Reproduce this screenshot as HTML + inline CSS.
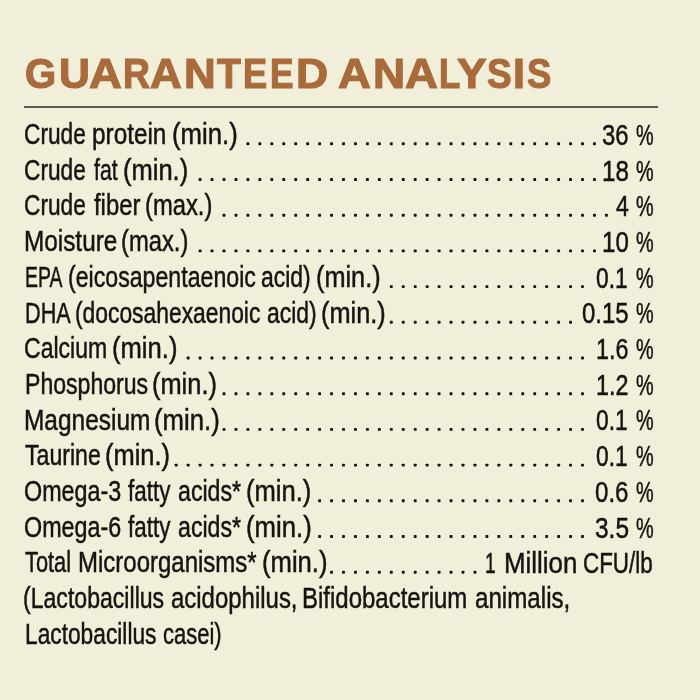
<!DOCTYPE html>
<html><head><meta charset="utf-8"><style>
html,body{margin:0;padding:0}
body{width:700px;height:700px;background:#f1eeda;position:relative;overflow:hidden;font-family:"Liberation Sans",sans-serif}
.t{position:absolute;left:0;top:0;width:700px;height:120px;will-change:transform;font-weight:bold;color:#a96b3b;font-size:42.4px;letter-spacing:2.0px;line-height:0;white-space:nowrap;transform-origin:0 0}
.t span{position:absolute;top:74.40px;transform-origin:0 0;-webkit-text-stroke:1.2px #a96b3b}
.rule{position:absolute;left:24.3px;top:105.9px;width:634.2px;height:2.6px;background:#5e5b55}
.r,.v{position:absolute;height:0;line-height:0;font-size:29.8px;-webkit-text-stroke:0.5px #151412;word-spacing:-3px;color:#151412;white-space:nowrap}
.r{transform-origin:0 0}
.v{word-spacing:0;right:47px;transform-origin:100% 0}
svg{position:absolute;left:0;top:0}
.rows{position:absolute;left:0;top:0;width:700px;height:700px;will-change:transform}
</style></head><body>
<div class="t"><span style="left:25.22px;transform:scaleX(0.9433)">G</span><span style="left:58.53px;transform:scaleX(1.0084)">U</span><span style="left:88.77px;transform:scaleX(1.0711)">A</span><span style="left:122.60px;transform:scaleX(0.8802)">R</span><span style="left:150.49px;transform:scaleX(1.0373)">A</span><span style="left:183.75px;transform:scaleX(1.0347)">N</span><span style="left:217.16px;transform:scaleX(0.9214)">T</span><span style="left:243.46px;transform:scaleX(0.8536)">E</span><span style="left:270.21px;transform:scaleX(0.8297)">E</span><span style="left:295.81px;transform:scaleX(1.0501)">D</span><span style="left:338.27px;transform:scaleX(1.0745)">A</span><span style="left:372.61px;transform:scaleX(1.0499)">N</span><span style="left:405.07px;transform:scaleX(1.0745)">A</span><span style="left:439.24px;transform:scaleX(0.8196)">L</span><span style="left:457.20px;transform:scaleX(1.0468)">Y</span><span style="left:486.88px;transform:scaleX(0.8715)">S</span><span style="left:513.09px;transform:scaleX(1.0167)">I</span><span style="left:526.89px;transform:scaleX(0.8565)">S</span></div>
<div class="rule"></div>
<div class="rows"><div class="r" style="top:134.07px;left:24.47px;transform:scaleX(0.7611)">Crude</div>
<div class="r" style="top:134.07px;left:92.40px;transform:scaleX(0.8165)">protein</div>
<div class="r" style="top:134.07px;left:171.61px;transform:scaleX(0.8628)">(min.)</div>
<div class="r" style="top:133.87px;left:602.02px;font-size:30.4px;transform:scaleX(0.7853)">36</div>
<div class="r" style="top:133.87px;left:635.78px;font-size:30.4px;transform:scaleX(0.6538)">%</div>
<div class="r" style="top:169.77px;left:24.47px;transform:scaleX(0.7611)">Crude</div>
<div class="r" style="top:169.77px;left:93.79px;transform:scaleX(0.7133)">fat</div>
<div class="r" style="top:169.77px;left:123.12px;transform:scaleX(0.8560)">(min.)</div>
<div class="r" style="top:169.57px;left:602.18px;font-size:30.4px;transform:scaleX(0.7955)">18</div>
<div class="r" style="top:169.57px;left:635.78px;font-size:30.4px;transform:scaleX(0.6538)">%</div>
<div class="r" style="top:205.47px;left:24.47px;transform:scaleX(0.7611)">Crude</div>
<div class="r" style="top:205.47px;left:93.80px;transform:scaleX(0.8001)">fiber</div>
<div class="r" style="top:205.47px;left:144.96px;transform:scaleX(0.7978)">(max.)</div>
<div class="r" style="top:205.27px;left:615.85px;font-size:30.4px;transform:scaleX(0.7587)">4</div>
<div class="r" style="top:205.27px;left:635.78px;font-size:30.4px;transform:scaleX(0.6538)">%</div>
<div class="r" style="top:241.17px;left:23.67px;transform:scaleX(0.8165)">Moisture</div>
<div class="r" style="top:241.17px;left:121.21px;transform:scaleX(0.7978)">(max.)</div>
<div class="r" style="top:240.97px;left:602.19px;font-size:30.4px;transform:scaleX(0.7931)">10</div>
<div class="r" style="top:240.97px;left:635.78px;font-size:30.4px;transform:scaleX(0.6538)">%</div>
<div class="r" style="top:276.87px;left:24.54px;transform:scaleX(0.6512)">EPA</div>
<div class="r" style="top:276.87px;left:67.50px;transform:scaleX(0.7767)">(eicosapentaenoic</div>
<div class="r" style="top:276.87px;left:261.32px;transform:scaleX(0.7700)">acid)</div>
<div class="r" style="top:276.87px;left:315.63px;transform:scaleX(0.8491)">(min.)</div>
<div class="r" style="top:276.67px;left:595.66px;font-size:30.4px;transform:scaleX(0.7493)">0.1</div>
<div class="r" style="top:276.67px;left:635.78px;font-size:30.4px;transform:scaleX(0.6538)">%</div>
<div class="r" style="top:312.57px;left:24.62px;transform:scaleX(0.7268)">DHA</div>
<div class="r" style="top:312.57px;left:75.01px;transform:scaleX(0.7663)">(docosahexaenoic</div>
<div class="r" style="top:312.57px;left:266.82px;transform:scaleX(0.7700)">acid)</div>
<div class="r" style="top:312.57px;left:321.13px;transform:scaleX(0.8505)">(min.)</div>
<div class="r" style="top:312.37px;left:581.83px;font-size:30.4px;transform:scaleX(0.7871)">0.15</div>
<div class="r" style="top:312.37px;left:635.78px;font-size:30.4px;transform:scaleX(0.6538)">%</div>
<div class="r" style="top:348.27px;left:24.25px;transform:scaleX(0.7726)">Calcium</div>
<div class="r" style="top:348.27px;left:112.36px;transform:scaleX(0.8594)">(min.)</div>
<div class="r" style="top:348.07px;left:596.24px;font-size:30.4px;transform:scaleX(0.7655)">1.6</div>
<div class="r" style="top:348.07px;left:635.78px;font-size:30.4px;transform:scaleX(0.6538)">%</div>
<div class="r" style="top:383.97px;left:24.51px;transform:scaleX(0.7741)">Phosphorus</div>
<div class="r" style="top:383.97px;left:152.38px;transform:scaleX(0.8526)">(min.)</div>
<div class="r" style="top:383.77px;left:596.24px;font-size:30.4px;transform:scaleX(0.7675)">1.2</div>
<div class="r" style="top:383.77px;left:635.78px;font-size:30.4px;transform:scaleX(0.6538)">%</div>
<div class="r" style="top:419.67px;left:23.66px;transform:scaleX(0.8203)">Magnesium</div>
<div class="r" style="top:419.67px;left:153.61px;transform:scaleX(0.8628)">(min.)</div>
<div class="r" style="top:419.47px;left:595.66px;font-size:30.4px;transform:scaleX(0.7493)">0.1</div>
<div class="r" style="top:419.47px;left:635.78px;font-size:30.4px;transform:scaleX(0.6538)">%</div>
<div class="r" style="top:455.37px;left:24.67px;transform:scaleX(0.7761)">Taurine</div>
<div class="r" style="top:455.37px;left:104.87px;transform:scaleX(0.8539)">(min.)</div>
<div class="r" style="top:455.17px;left:595.66px;font-size:30.4px;transform:scaleX(0.7493)">0.1</div>
<div class="r" style="top:455.17px;left:635.78px;font-size:30.4px;transform:scaleX(0.6538)">%</div>
<div class="r" style="top:491.07px;left:24.00px;transform:scaleX(0.7823)">Omega-3</div>
<div class="r" style="top:491.07px;left:128.05px;transform:scaleX(0.7524)">fatty</div>
<div class="r" style="top:491.07px;left:178.21px;transform:scaleX(0.7775)">acids*</div>
<div class="r" style="top:491.07px;left:246.12px;transform:scaleX(0.8587)">(min.)</div>
<div class="r" style="top:490.87px;left:595.33px;font-size:30.4px;transform:scaleX(0.7925)">0.6</div>
<div class="r" style="top:490.87px;left:635.78px;font-size:30.4px;transform:scaleX(0.6538)">%</div>
<div class="r" style="top:526.77px;left:24.00px;transform:scaleX(0.7822)">Omega-6</div>
<div class="r" style="top:526.77px;left:128.05px;transform:scaleX(0.7524)">fatty</div>
<div class="r" style="top:526.77px;left:178.21px;transform:scaleX(0.7775)">acids*</div>
<div class="r" style="top:526.77px;left:246.11px;transform:scaleX(0.8628)">(min.)</div>
<div class="r" style="top:526.57px;left:594.80px;font-size:30.4px;transform:scaleX(0.8043)">3.5</div>
<div class="r" style="top:526.57px;left:635.78px;font-size:30.4px;transform:scaleX(0.6538)">%</div>
<div class="r" style="top:562.47px;left:25.19px;transform:scaleX(0.7310)">Total</div>
<div class="r" style="top:562.47px;left:78.49px;transform:scaleX(0.8051)">Microorganisms*</div>
<div class="r" style="top:562.47px;left:262.31px;transform:scaleX(0.8601)">(min.)</div>
<div class="r" style="top:562.27px;left:485.04px;font-size:30.4px;transform:scaleX(0.6323)">1</div>
<div class="r" style="top:562.27px;left:504.32px;font-size:30.4px;transform:scaleX(0.8507)">Million</div>
<div class="r" style="top:562.27px;left:583.48px;font-size:30.4px;transform:scaleX(0.7369)">CFU/lb</div>
<div class="r" style="top:598.17px;left:23.05px;transform:scaleX(0.7747)">(Lactobacillus</div>
<div class="r" style="top:598.17px;left:170.59px;transform:scaleX(0.8040)">acidophilus,</div>
<div class="r" style="top:598.17px;left:302.09px;transform:scaleX(0.8051)">Bifidobacterium</div>
<div class="r" style="top:598.17px;left:474.88px;transform:scaleX(0.8104)">animalis,</div>
<div class="r" style="top:633.87px;left:24.79px;transform:scaleX(0.7631)">Lactobacillus</div>
<div class="r" style="top:633.87px;left:163.05px;transform:scaleX(0.7383)">casei)</div></div>
<svg width="700" height="700" fill="#151412"><rect x="246.45" y="142.35" width="2.9" height="2.9" rx="0.7"/><rect x="258.40" y="142.35" width="2.9" height="2.9" rx="0.7"/><rect x="270.35" y="142.35" width="2.9" height="2.9" rx="0.7"/><rect x="282.30" y="142.35" width="2.9" height="2.9" rx="0.7"/><rect x="294.25" y="142.35" width="2.9" height="2.9" rx="0.7"/><rect x="306.20" y="142.35" width="2.9" height="2.9" rx="0.7"/><rect x="318.15" y="142.35" width="2.9" height="2.9" rx="0.7"/><rect x="330.10" y="142.35" width="2.9" height="2.9" rx="0.7"/><rect x="342.05" y="142.35" width="2.9" height="2.9" rx="0.7"/><rect x="354.00" y="142.35" width="2.9" height="2.9" rx="0.7"/><rect x="365.95" y="142.35" width="2.9" height="2.9" rx="0.7"/><rect x="377.90" y="142.35" width="2.9" height="2.9" rx="0.7"/><rect x="389.85" y="142.35" width="2.9" height="2.9" rx="0.7"/><rect x="401.80" y="142.35" width="2.9" height="2.9" rx="0.7"/><rect x="413.75" y="142.35" width="2.9" height="2.9" rx="0.7"/><rect x="425.70" y="142.35" width="2.9" height="2.9" rx="0.7"/><rect x="437.65" y="142.35" width="2.9" height="2.9" rx="0.7"/><rect x="449.60" y="142.35" width="2.9" height="2.9" rx="0.7"/><rect x="461.55" y="142.35" width="2.9" height="2.9" rx="0.7"/><rect x="473.50" y="142.35" width="2.9" height="2.9" rx="0.7"/><rect x="485.45" y="142.35" width="2.9" height="2.9" rx="0.7"/><rect x="497.40" y="142.35" width="2.9" height="2.9" rx="0.7"/><rect x="509.35" y="142.35" width="2.9" height="2.9" rx="0.7"/><rect x="521.30" y="142.35" width="2.9" height="2.9" rx="0.7"/><rect x="533.25" y="142.35" width="2.9" height="2.9" rx="0.7"/><rect x="545.20" y="142.35" width="2.9" height="2.9" rx="0.7"/><rect x="557.15" y="142.35" width="2.9" height="2.9" rx="0.7"/><rect x="569.10" y="142.35" width="2.9" height="2.9" rx="0.7"/><rect x="581.05" y="142.35" width="2.9" height="2.9" rx="0.7"/><rect x="593.00" y="142.35" width="2.9" height="2.9" rx="0.7"/><rect x="198.65" y="178.05" width="2.9" height="2.9" rx="0.7"/><rect x="210.60" y="178.05" width="2.9" height="2.9" rx="0.7"/><rect x="222.55" y="178.05" width="2.9" height="2.9" rx="0.7"/><rect x="234.50" y="178.05" width="2.9" height="2.9" rx="0.7"/><rect x="246.45" y="178.05" width="2.9" height="2.9" rx="0.7"/><rect x="258.40" y="178.05" width="2.9" height="2.9" rx="0.7"/><rect x="270.35" y="178.05" width="2.9" height="2.9" rx="0.7"/><rect x="282.30" y="178.05" width="2.9" height="2.9" rx="0.7"/><rect x="294.25" y="178.05" width="2.9" height="2.9" rx="0.7"/><rect x="306.20" y="178.05" width="2.9" height="2.9" rx="0.7"/><rect x="318.15" y="178.05" width="2.9" height="2.9" rx="0.7"/><rect x="330.10" y="178.05" width="2.9" height="2.9" rx="0.7"/><rect x="342.05" y="178.05" width="2.9" height="2.9" rx="0.7"/><rect x="354.00" y="178.05" width="2.9" height="2.9" rx="0.7"/><rect x="365.95" y="178.05" width="2.9" height="2.9" rx="0.7"/><rect x="377.90" y="178.05" width="2.9" height="2.9" rx="0.7"/><rect x="389.85" y="178.05" width="2.9" height="2.9" rx="0.7"/><rect x="401.80" y="178.05" width="2.9" height="2.9" rx="0.7"/><rect x="413.75" y="178.05" width="2.9" height="2.9" rx="0.7"/><rect x="425.70" y="178.05" width="2.9" height="2.9" rx="0.7"/><rect x="437.65" y="178.05" width="2.9" height="2.9" rx="0.7"/><rect x="449.60" y="178.05" width="2.9" height="2.9" rx="0.7"/><rect x="461.55" y="178.05" width="2.9" height="2.9" rx="0.7"/><rect x="473.50" y="178.05" width="2.9" height="2.9" rx="0.7"/><rect x="485.45" y="178.05" width="2.9" height="2.9" rx="0.7"/><rect x="497.40" y="178.05" width="2.9" height="2.9" rx="0.7"/><rect x="509.35" y="178.05" width="2.9" height="2.9" rx="0.7"/><rect x="521.30" y="178.05" width="2.9" height="2.9" rx="0.7"/><rect x="533.25" y="178.05" width="2.9" height="2.9" rx="0.7"/><rect x="545.20" y="178.05" width="2.9" height="2.9" rx="0.7"/><rect x="557.15" y="178.05" width="2.9" height="2.9" rx="0.7"/><rect x="569.10" y="178.05" width="2.9" height="2.9" rx="0.7"/><rect x="581.05" y="178.05" width="2.9" height="2.9" rx="0.7"/><rect x="593.00" y="178.05" width="2.9" height="2.9" rx="0.7"/><rect x="222.55" y="213.75" width="2.9" height="2.9" rx="0.7"/><rect x="234.50" y="213.75" width="2.9" height="2.9" rx="0.7"/><rect x="246.45" y="213.75" width="2.9" height="2.9" rx="0.7"/><rect x="258.40" y="213.75" width="2.9" height="2.9" rx="0.7"/><rect x="270.35" y="213.75" width="2.9" height="2.9" rx="0.7"/><rect x="282.30" y="213.75" width="2.9" height="2.9" rx="0.7"/><rect x="294.25" y="213.75" width="2.9" height="2.9" rx="0.7"/><rect x="306.20" y="213.75" width="2.9" height="2.9" rx="0.7"/><rect x="318.15" y="213.75" width="2.9" height="2.9" rx="0.7"/><rect x="330.10" y="213.75" width="2.9" height="2.9" rx="0.7"/><rect x="342.05" y="213.75" width="2.9" height="2.9" rx="0.7"/><rect x="354.00" y="213.75" width="2.9" height="2.9" rx="0.7"/><rect x="365.95" y="213.75" width="2.9" height="2.9" rx="0.7"/><rect x="377.90" y="213.75" width="2.9" height="2.9" rx="0.7"/><rect x="389.85" y="213.75" width="2.9" height="2.9" rx="0.7"/><rect x="401.80" y="213.75" width="2.9" height="2.9" rx="0.7"/><rect x="413.75" y="213.75" width="2.9" height="2.9" rx="0.7"/><rect x="425.70" y="213.75" width="2.9" height="2.9" rx="0.7"/><rect x="437.65" y="213.75" width="2.9" height="2.9" rx="0.7"/><rect x="449.60" y="213.75" width="2.9" height="2.9" rx="0.7"/><rect x="461.55" y="213.75" width="2.9" height="2.9" rx="0.7"/><rect x="473.50" y="213.75" width="2.9" height="2.9" rx="0.7"/><rect x="485.45" y="213.75" width="2.9" height="2.9" rx="0.7"/><rect x="497.40" y="213.75" width="2.9" height="2.9" rx="0.7"/><rect x="509.35" y="213.75" width="2.9" height="2.9" rx="0.7"/><rect x="521.30" y="213.75" width="2.9" height="2.9" rx="0.7"/><rect x="533.25" y="213.75" width="2.9" height="2.9" rx="0.7"/><rect x="545.20" y="213.75" width="2.9" height="2.9" rx="0.7"/><rect x="557.15" y="213.75" width="2.9" height="2.9" rx="0.7"/><rect x="569.10" y="213.75" width="2.9" height="2.9" rx="0.7"/><rect x="581.05" y="213.75" width="2.9" height="2.9" rx="0.7"/><rect x="593.00" y="213.75" width="2.9" height="2.9" rx="0.7"/><rect x="604.95" y="213.75" width="2.9" height="2.9" rx="0.7"/><rect x="198.65" y="249.45" width="2.9" height="2.9" rx="0.7"/><rect x="210.60" y="249.45" width="2.9" height="2.9" rx="0.7"/><rect x="222.55" y="249.45" width="2.9" height="2.9" rx="0.7"/><rect x="234.50" y="249.45" width="2.9" height="2.9" rx="0.7"/><rect x="246.45" y="249.45" width="2.9" height="2.9" rx="0.7"/><rect x="258.40" y="249.45" width="2.9" height="2.9" rx="0.7"/><rect x="270.35" y="249.45" width="2.9" height="2.9" rx="0.7"/><rect x="282.30" y="249.45" width="2.9" height="2.9" rx="0.7"/><rect x="294.25" y="249.45" width="2.9" height="2.9" rx="0.7"/><rect x="306.20" y="249.45" width="2.9" height="2.9" rx="0.7"/><rect x="318.15" y="249.45" width="2.9" height="2.9" rx="0.7"/><rect x="330.10" y="249.45" width="2.9" height="2.9" rx="0.7"/><rect x="342.05" y="249.45" width="2.9" height="2.9" rx="0.7"/><rect x="354.00" y="249.45" width="2.9" height="2.9" rx="0.7"/><rect x="365.95" y="249.45" width="2.9" height="2.9" rx="0.7"/><rect x="377.90" y="249.45" width="2.9" height="2.9" rx="0.7"/><rect x="389.85" y="249.45" width="2.9" height="2.9" rx="0.7"/><rect x="401.80" y="249.45" width="2.9" height="2.9" rx="0.7"/><rect x="413.75" y="249.45" width="2.9" height="2.9" rx="0.7"/><rect x="425.70" y="249.45" width="2.9" height="2.9" rx="0.7"/><rect x="437.65" y="249.45" width="2.9" height="2.9" rx="0.7"/><rect x="449.60" y="249.45" width="2.9" height="2.9" rx="0.7"/><rect x="461.55" y="249.45" width="2.9" height="2.9" rx="0.7"/><rect x="473.50" y="249.45" width="2.9" height="2.9" rx="0.7"/><rect x="485.45" y="249.45" width="2.9" height="2.9" rx="0.7"/><rect x="497.40" y="249.45" width="2.9" height="2.9" rx="0.7"/><rect x="509.35" y="249.45" width="2.9" height="2.9" rx="0.7"/><rect x="521.30" y="249.45" width="2.9" height="2.9" rx="0.7"/><rect x="533.25" y="249.45" width="2.9" height="2.9" rx="0.7"/><rect x="545.20" y="249.45" width="2.9" height="2.9" rx="0.7"/><rect x="557.15" y="249.45" width="2.9" height="2.9" rx="0.7"/><rect x="569.10" y="249.45" width="2.9" height="2.9" rx="0.7"/><rect x="581.05" y="249.45" width="2.9" height="2.9" rx="0.7"/><rect x="593.00" y="249.45" width="2.9" height="2.9" rx="0.7"/><rect x="389.85" y="285.15" width="2.9" height="2.9" rx="0.7"/><rect x="401.80" y="285.15" width="2.9" height="2.9" rx="0.7"/><rect x="413.75" y="285.15" width="2.9" height="2.9" rx="0.7"/><rect x="425.70" y="285.15" width="2.9" height="2.9" rx="0.7"/><rect x="437.65" y="285.15" width="2.9" height="2.9" rx="0.7"/><rect x="449.60" y="285.15" width="2.9" height="2.9" rx="0.7"/><rect x="461.55" y="285.15" width="2.9" height="2.9" rx="0.7"/><rect x="473.50" y="285.15" width="2.9" height="2.9" rx="0.7"/><rect x="485.45" y="285.15" width="2.9" height="2.9" rx="0.7"/><rect x="497.40" y="285.15" width="2.9" height="2.9" rx="0.7"/><rect x="509.35" y="285.15" width="2.9" height="2.9" rx="0.7"/><rect x="521.30" y="285.15" width="2.9" height="2.9" rx="0.7"/><rect x="533.25" y="285.15" width="2.9" height="2.9" rx="0.7"/><rect x="545.20" y="285.15" width="2.9" height="2.9" rx="0.7"/><rect x="557.15" y="285.15" width="2.9" height="2.9" rx="0.7"/><rect x="569.10" y="285.15" width="2.9" height="2.9" rx="0.7"/><rect x="581.05" y="285.15" width="2.9" height="2.9" rx="0.7"/><rect x="389.85" y="320.85" width="2.9" height="2.9" rx="0.7"/><rect x="401.80" y="320.85" width="2.9" height="2.9" rx="0.7"/><rect x="413.75" y="320.85" width="2.9" height="2.9" rx="0.7"/><rect x="425.70" y="320.85" width="2.9" height="2.9" rx="0.7"/><rect x="437.65" y="320.85" width="2.9" height="2.9" rx="0.7"/><rect x="449.60" y="320.85" width="2.9" height="2.9" rx="0.7"/><rect x="461.55" y="320.85" width="2.9" height="2.9" rx="0.7"/><rect x="473.50" y="320.85" width="2.9" height="2.9" rx="0.7"/><rect x="485.45" y="320.85" width="2.9" height="2.9" rx="0.7"/><rect x="497.40" y="320.85" width="2.9" height="2.9" rx="0.7"/><rect x="509.35" y="320.85" width="2.9" height="2.9" rx="0.7"/><rect x="521.30" y="320.85" width="2.9" height="2.9" rx="0.7"/><rect x="533.25" y="320.85" width="2.9" height="2.9" rx="0.7"/><rect x="545.20" y="320.85" width="2.9" height="2.9" rx="0.7"/><rect x="557.15" y="320.85" width="2.9" height="2.9" rx="0.7"/><rect x="569.10" y="320.85" width="2.9" height="2.9" rx="0.7"/><rect x="186.70" y="356.55" width="2.9" height="2.9" rx="0.7"/><rect x="198.65" y="356.55" width="2.9" height="2.9" rx="0.7"/><rect x="210.60" y="356.55" width="2.9" height="2.9" rx="0.7"/><rect x="222.55" y="356.55" width="2.9" height="2.9" rx="0.7"/><rect x="234.50" y="356.55" width="2.9" height="2.9" rx="0.7"/><rect x="246.45" y="356.55" width="2.9" height="2.9" rx="0.7"/><rect x="258.40" y="356.55" width="2.9" height="2.9" rx="0.7"/><rect x="270.35" y="356.55" width="2.9" height="2.9" rx="0.7"/><rect x="282.30" y="356.55" width="2.9" height="2.9" rx="0.7"/><rect x="294.25" y="356.55" width="2.9" height="2.9" rx="0.7"/><rect x="306.20" y="356.55" width="2.9" height="2.9" rx="0.7"/><rect x="318.15" y="356.55" width="2.9" height="2.9" rx="0.7"/><rect x="330.10" y="356.55" width="2.9" height="2.9" rx="0.7"/><rect x="342.05" y="356.55" width="2.9" height="2.9" rx="0.7"/><rect x="354.00" y="356.55" width="2.9" height="2.9" rx="0.7"/><rect x="365.95" y="356.55" width="2.9" height="2.9" rx="0.7"/><rect x="377.90" y="356.55" width="2.9" height="2.9" rx="0.7"/><rect x="389.85" y="356.55" width="2.9" height="2.9" rx="0.7"/><rect x="401.80" y="356.55" width="2.9" height="2.9" rx="0.7"/><rect x="413.75" y="356.55" width="2.9" height="2.9" rx="0.7"/><rect x="425.70" y="356.55" width="2.9" height="2.9" rx="0.7"/><rect x="437.65" y="356.55" width="2.9" height="2.9" rx="0.7"/><rect x="449.60" y="356.55" width="2.9" height="2.9" rx="0.7"/><rect x="461.55" y="356.55" width="2.9" height="2.9" rx="0.7"/><rect x="473.50" y="356.55" width="2.9" height="2.9" rx="0.7"/><rect x="485.45" y="356.55" width="2.9" height="2.9" rx="0.7"/><rect x="497.40" y="356.55" width="2.9" height="2.9" rx="0.7"/><rect x="509.35" y="356.55" width="2.9" height="2.9" rx="0.7"/><rect x="521.30" y="356.55" width="2.9" height="2.9" rx="0.7"/><rect x="533.25" y="356.55" width="2.9" height="2.9" rx="0.7"/><rect x="545.20" y="356.55" width="2.9" height="2.9" rx="0.7"/><rect x="557.15" y="356.55" width="2.9" height="2.9" rx="0.7"/><rect x="569.10" y="356.55" width="2.9" height="2.9" rx="0.7"/><rect x="581.05" y="356.55" width="2.9" height="2.9" rx="0.7"/><rect x="222.55" y="392.25" width="2.9" height="2.9" rx="0.7"/><rect x="234.50" y="392.25" width="2.9" height="2.9" rx="0.7"/><rect x="246.45" y="392.25" width="2.9" height="2.9" rx="0.7"/><rect x="258.40" y="392.25" width="2.9" height="2.9" rx="0.7"/><rect x="270.35" y="392.25" width="2.9" height="2.9" rx="0.7"/><rect x="282.30" y="392.25" width="2.9" height="2.9" rx="0.7"/><rect x="294.25" y="392.25" width="2.9" height="2.9" rx="0.7"/><rect x="306.20" y="392.25" width="2.9" height="2.9" rx="0.7"/><rect x="318.15" y="392.25" width="2.9" height="2.9" rx="0.7"/><rect x="330.10" y="392.25" width="2.9" height="2.9" rx="0.7"/><rect x="342.05" y="392.25" width="2.9" height="2.9" rx="0.7"/><rect x="354.00" y="392.25" width="2.9" height="2.9" rx="0.7"/><rect x="365.95" y="392.25" width="2.9" height="2.9" rx="0.7"/><rect x="377.90" y="392.25" width="2.9" height="2.9" rx="0.7"/><rect x="389.85" y="392.25" width="2.9" height="2.9" rx="0.7"/><rect x="401.80" y="392.25" width="2.9" height="2.9" rx="0.7"/><rect x="413.75" y="392.25" width="2.9" height="2.9" rx="0.7"/><rect x="425.70" y="392.25" width="2.9" height="2.9" rx="0.7"/><rect x="437.65" y="392.25" width="2.9" height="2.9" rx="0.7"/><rect x="449.60" y="392.25" width="2.9" height="2.9" rx="0.7"/><rect x="461.55" y="392.25" width="2.9" height="2.9" rx="0.7"/><rect x="473.50" y="392.25" width="2.9" height="2.9" rx="0.7"/><rect x="485.45" y="392.25" width="2.9" height="2.9" rx="0.7"/><rect x="497.40" y="392.25" width="2.9" height="2.9" rx="0.7"/><rect x="509.35" y="392.25" width="2.9" height="2.9" rx="0.7"/><rect x="521.30" y="392.25" width="2.9" height="2.9" rx="0.7"/><rect x="533.25" y="392.25" width="2.9" height="2.9" rx="0.7"/><rect x="545.20" y="392.25" width="2.9" height="2.9" rx="0.7"/><rect x="557.15" y="392.25" width="2.9" height="2.9" rx="0.7"/><rect x="569.10" y="392.25" width="2.9" height="2.9" rx="0.7"/><rect x="581.05" y="392.25" width="2.9" height="2.9" rx="0.7"/><rect x="222.55" y="427.95" width="2.9" height="2.9" rx="0.7"/><rect x="234.50" y="427.95" width="2.9" height="2.9" rx="0.7"/><rect x="246.45" y="427.95" width="2.9" height="2.9" rx="0.7"/><rect x="258.40" y="427.95" width="2.9" height="2.9" rx="0.7"/><rect x="270.35" y="427.95" width="2.9" height="2.9" rx="0.7"/><rect x="282.30" y="427.95" width="2.9" height="2.9" rx="0.7"/><rect x="294.25" y="427.95" width="2.9" height="2.9" rx="0.7"/><rect x="306.20" y="427.95" width="2.9" height="2.9" rx="0.7"/><rect x="318.15" y="427.95" width="2.9" height="2.9" rx="0.7"/><rect x="330.10" y="427.95" width="2.9" height="2.9" rx="0.7"/><rect x="342.05" y="427.95" width="2.9" height="2.9" rx="0.7"/><rect x="354.00" y="427.95" width="2.9" height="2.9" rx="0.7"/><rect x="365.95" y="427.95" width="2.9" height="2.9" rx="0.7"/><rect x="377.90" y="427.95" width="2.9" height="2.9" rx="0.7"/><rect x="389.85" y="427.95" width="2.9" height="2.9" rx="0.7"/><rect x="401.80" y="427.95" width="2.9" height="2.9" rx="0.7"/><rect x="413.75" y="427.95" width="2.9" height="2.9" rx="0.7"/><rect x="425.70" y="427.95" width="2.9" height="2.9" rx="0.7"/><rect x="437.65" y="427.95" width="2.9" height="2.9" rx="0.7"/><rect x="449.60" y="427.95" width="2.9" height="2.9" rx="0.7"/><rect x="461.55" y="427.95" width="2.9" height="2.9" rx="0.7"/><rect x="473.50" y="427.95" width="2.9" height="2.9" rx="0.7"/><rect x="485.45" y="427.95" width="2.9" height="2.9" rx="0.7"/><rect x="497.40" y="427.95" width="2.9" height="2.9" rx="0.7"/><rect x="509.35" y="427.95" width="2.9" height="2.9" rx="0.7"/><rect x="521.30" y="427.95" width="2.9" height="2.9" rx="0.7"/><rect x="533.25" y="427.95" width="2.9" height="2.9" rx="0.7"/><rect x="545.20" y="427.95" width="2.9" height="2.9" rx="0.7"/><rect x="557.15" y="427.95" width="2.9" height="2.9" rx="0.7"/><rect x="569.10" y="427.95" width="2.9" height="2.9" rx="0.7"/><rect x="581.05" y="427.95" width="2.9" height="2.9" rx="0.7"/><rect x="174.75" y="463.65" width="2.9" height="2.9" rx="0.7"/><rect x="186.70" y="463.65" width="2.9" height="2.9" rx="0.7"/><rect x="198.65" y="463.65" width="2.9" height="2.9" rx="0.7"/><rect x="210.60" y="463.65" width="2.9" height="2.9" rx="0.7"/><rect x="222.55" y="463.65" width="2.9" height="2.9" rx="0.7"/><rect x="234.50" y="463.65" width="2.9" height="2.9" rx="0.7"/><rect x="246.45" y="463.65" width="2.9" height="2.9" rx="0.7"/><rect x="258.40" y="463.65" width="2.9" height="2.9" rx="0.7"/><rect x="270.35" y="463.65" width="2.9" height="2.9" rx="0.7"/><rect x="282.30" y="463.65" width="2.9" height="2.9" rx="0.7"/><rect x="294.25" y="463.65" width="2.9" height="2.9" rx="0.7"/><rect x="306.20" y="463.65" width="2.9" height="2.9" rx="0.7"/><rect x="318.15" y="463.65" width="2.9" height="2.9" rx="0.7"/><rect x="330.10" y="463.65" width="2.9" height="2.9" rx="0.7"/><rect x="342.05" y="463.65" width="2.9" height="2.9" rx="0.7"/><rect x="354.00" y="463.65" width="2.9" height="2.9" rx="0.7"/><rect x="365.95" y="463.65" width="2.9" height="2.9" rx="0.7"/><rect x="377.90" y="463.65" width="2.9" height="2.9" rx="0.7"/><rect x="389.85" y="463.65" width="2.9" height="2.9" rx="0.7"/><rect x="401.80" y="463.65" width="2.9" height="2.9" rx="0.7"/><rect x="413.75" y="463.65" width="2.9" height="2.9" rx="0.7"/><rect x="425.70" y="463.65" width="2.9" height="2.9" rx="0.7"/><rect x="437.65" y="463.65" width="2.9" height="2.9" rx="0.7"/><rect x="449.60" y="463.65" width="2.9" height="2.9" rx="0.7"/><rect x="461.55" y="463.65" width="2.9" height="2.9" rx="0.7"/><rect x="473.50" y="463.65" width="2.9" height="2.9" rx="0.7"/><rect x="485.45" y="463.65" width="2.9" height="2.9" rx="0.7"/><rect x="497.40" y="463.65" width="2.9" height="2.9" rx="0.7"/><rect x="509.35" y="463.65" width="2.9" height="2.9" rx="0.7"/><rect x="521.30" y="463.65" width="2.9" height="2.9" rx="0.7"/><rect x="533.25" y="463.65" width="2.9" height="2.9" rx="0.7"/><rect x="545.20" y="463.65" width="2.9" height="2.9" rx="0.7"/><rect x="557.15" y="463.65" width="2.9" height="2.9" rx="0.7"/><rect x="569.10" y="463.65" width="2.9" height="2.9" rx="0.7"/><rect x="581.05" y="463.65" width="2.9" height="2.9" rx="0.7"/><rect x="318.15" y="499.35" width="2.9" height="2.9" rx="0.7"/><rect x="330.10" y="499.35" width="2.9" height="2.9" rx="0.7"/><rect x="342.05" y="499.35" width="2.9" height="2.9" rx="0.7"/><rect x="354.00" y="499.35" width="2.9" height="2.9" rx="0.7"/><rect x="365.95" y="499.35" width="2.9" height="2.9" rx="0.7"/><rect x="377.90" y="499.35" width="2.9" height="2.9" rx="0.7"/><rect x="389.85" y="499.35" width="2.9" height="2.9" rx="0.7"/><rect x="401.80" y="499.35" width="2.9" height="2.9" rx="0.7"/><rect x="413.75" y="499.35" width="2.9" height="2.9" rx="0.7"/><rect x="425.70" y="499.35" width="2.9" height="2.9" rx="0.7"/><rect x="437.65" y="499.35" width="2.9" height="2.9" rx="0.7"/><rect x="449.60" y="499.35" width="2.9" height="2.9" rx="0.7"/><rect x="461.55" y="499.35" width="2.9" height="2.9" rx="0.7"/><rect x="473.50" y="499.35" width="2.9" height="2.9" rx="0.7"/><rect x="485.45" y="499.35" width="2.9" height="2.9" rx="0.7"/><rect x="497.40" y="499.35" width="2.9" height="2.9" rx="0.7"/><rect x="509.35" y="499.35" width="2.9" height="2.9" rx="0.7"/><rect x="521.30" y="499.35" width="2.9" height="2.9" rx="0.7"/><rect x="533.25" y="499.35" width="2.9" height="2.9" rx="0.7"/><rect x="545.20" y="499.35" width="2.9" height="2.9" rx="0.7"/><rect x="557.15" y="499.35" width="2.9" height="2.9" rx="0.7"/><rect x="569.10" y="499.35" width="2.9" height="2.9" rx="0.7"/><rect x="581.05" y="499.35" width="2.9" height="2.9" rx="0.7"/><rect x="318.15" y="535.05" width="2.9" height="2.9" rx="0.7"/><rect x="330.10" y="535.05" width="2.9" height="2.9" rx="0.7"/><rect x="342.05" y="535.05" width="2.9" height="2.9" rx="0.7"/><rect x="354.00" y="535.05" width="2.9" height="2.9" rx="0.7"/><rect x="365.95" y="535.05" width="2.9" height="2.9" rx="0.7"/><rect x="377.90" y="535.05" width="2.9" height="2.9" rx="0.7"/><rect x="389.85" y="535.05" width="2.9" height="2.9" rx="0.7"/><rect x="401.80" y="535.05" width="2.9" height="2.9" rx="0.7"/><rect x="413.75" y="535.05" width="2.9" height="2.9" rx="0.7"/><rect x="425.70" y="535.05" width="2.9" height="2.9" rx="0.7"/><rect x="437.65" y="535.05" width="2.9" height="2.9" rx="0.7"/><rect x="449.60" y="535.05" width="2.9" height="2.9" rx="0.7"/><rect x="461.55" y="535.05" width="2.9" height="2.9" rx="0.7"/><rect x="473.50" y="535.05" width="2.9" height="2.9" rx="0.7"/><rect x="485.45" y="535.05" width="2.9" height="2.9" rx="0.7"/><rect x="497.40" y="535.05" width="2.9" height="2.9" rx="0.7"/><rect x="509.35" y="535.05" width="2.9" height="2.9" rx="0.7"/><rect x="521.30" y="535.05" width="2.9" height="2.9" rx="0.7"/><rect x="533.25" y="535.05" width="2.9" height="2.9" rx="0.7"/><rect x="545.20" y="535.05" width="2.9" height="2.9" rx="0.7"/><rect x="557.15" y="535.05" width="2.9" height="2.9" rx="0.7"/><rect x="569.10" y="535.05" width="2.9" height="2.9" rx="0.7"/><rect x="581.05" y="535.05" width="2.9" height="2.9" rx="0.7"/><rect x="330.10" y="570.75" width="2.9" height="2.9" rx="0.7"/><rect x="342.05" y="570.75" width="2.9" height="2.9" rx="0.7"/><rect x="354.00" y="570.75" width="2.9" height="2.9" rx="0.7"/><rect x="365.95" y="570.75" width="2.9" height="2.9" rx="0.7"/><rect x="377.90" y="570.75" width="2.9" height="2.9" rx="0.7"/><rect x="389.85" y="570.75" width="2.9" height="2.9" rx="0.7"/><rect x="401.80" y="570.75" width="2.9" height="2.9" rx="0.7"/><rect x="413.75" y="570.75" width="2.9" height="2.9" rx="0.7"/><rect x="425.70" y="570.75" width="2.9" height="2.9" rx="0.7"/><rect x="437.65" y="570.75" width="2.9" height="2.9" rx="0.7"/><rect x="449.60" y="570.75" width="2.9" height="2.9" rx="0.7"/><rect x="461.55" y="570.75" width="2.9" height="2.9" rx="0.7"/><rect x="473.50" y="570.75" width="2.9" height="2.9" rx="0.7"/></svg>
</body></html>
